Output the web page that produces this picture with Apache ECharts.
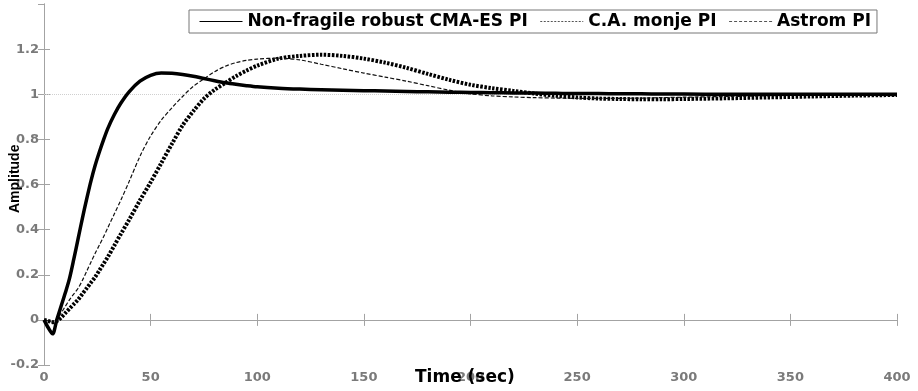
<!DOCTYPE html>
<html>
<head>
<meta charset="utf-8">
<script src="https://cdn.jsdelivr.net/npm/echarts@6/dist/echarts.min.js"></script>
<style>
html,body{margin:0;padding:0;background:#fff;}
#chart{width:918px;height:391px;}
</style>
</head>
<body>
<div id="chart"></div>
<script>
// ---- data ----
const timeSec = [0,2,4,6,8,10,12,14,16,18,20,22,24,26,28,30,33,36,40,45,50,55,60,65,70,75,80,85,90,95,100,110,120,130,140,150,160,170,180,190,200,210,220,230,240,250,260,270,280,290,300,320,340,360,380,400];
const cmaEsPI  = [0,-0.035,-0.062,0.0,0.06,0.12,0.185,0.27,0.36,0.45,0.535,0.615,0.685,0.745,0.80,0.85,0.91,0.96,1.012,1.058,1.084,1.094,1.093,1.088,1.08,1.07,1.06,1.051,1.044,1.038,1.033,1.027,1.023,1.02,1.018,1.016,1.014,1.012,1.011,1.009,1.008,1.007,1.006,1.005,1.004,1.003,1.003,1.002,1.002,1.001,1.001,1.0,1.0,1.0,1.0,1.0];
const monjePI  = [0,-0.005,-0.01,-0.005,0.01,0.03,0.05,0.07,0.09,0.115,0.14,0.165,0.19,0.22,0.25,0.28,0.33,0.38,0.445,0.53,0.61,0.695,0.78,0.862,0.925,0.98,1.02,1.05,1.08,1.105,1.127,1.158,1.17,1.175,1.17,1.158,1.14,1.117,1.09,1.064,1.042,1.027,1.015,1.003,0.993,0.986,0.981,0.979,0.978,0.978,0.979,0.982,0.986,0.99,0.994,0.997];
const astromPI = [0,-0.005,-0.01,0.0,0.03,0.06,0.09,0.115,0.14,0.175,0.215,0.255,0.295,0.332,0.37,0.41,0.47,0.53,0.615,0.725,0.815,0.885,0.94,0.99,1.035,1.068,1.1,1.124,1.14,1.15,1.156,1.16,1.152,1.133,1.113,1.094,1.076,1.058,1.038,1.018,1.002,0.993,0.988,0.985,0.983,0.982,0.982,0.982,0.983,0.985,0.987,0.99,0.993,0.996,0.998,1.0];
const seriesNames = ['Non-fragile robust CMA-ES PI','C.A. monje PI','Astrom PI'];
const xTicks = {min:0, max:400, interval:50};
const yTicks = {min:-0.2, max:1.4, interval:0.2};
const xTitle = 'Time (sec)';
const yTitle = 'Amplitude';

const pairs = arr => timeSec.map((t,i)=>[t,arr[i]]);
const FONT = 'DejaVu Sans';
const axisGrey = '#a3a3a3';
const labelStyle = {color:'#7a7a7a', fontFamily:FONT, fontWeight:'bold', fontSize:13};
const hiddenSymbol = {opacity:0, borderWidth:0};

const chart = echarts.init(document.getElementById('chart'), null, {renderer:'canvas'});
chart.setOption({
  animation:false,
  backgroundColor:'#fff',
  grid:{left:44, right:21, top:4, bottom:26, containLabel:false},
  legend:{
    left:189, top:10,
    padding:[3,6,3,10],
    itemWidth:43, itemHeight:12, itemGap:12,
    backgroundColor:'#fff', borderColor:'#777', borderWidth:1, borderRadius:0,
    textStyle:{color:'#000', fontFamily:FONT, fontWeight:'bold', fontSize:17},
    data:[
      {name:seriesNames[0], itemStyle:hiddenSymbol, lineStyle:{width:1, type:'solid', color:'#000'}},
      {name:seriesNames[1], itemStyle:hiddenSymbol, lineStyle:{width:1, type:[2,1.5], color:'#555'}},
      {name:seriesNames[2], itemStyle:hiddenSymbol, lineStyle:{width:1, type:[3,2], color:'#555'}}
    ]
  },
  xAxis:[
    {type:'value', min:xTicks.min, max:xTicks.max, interval:xTicks.interval, position:'bottom',
     axisLine:{show:true, lineStyle:{color:axisGrey, width:1}},
     axisTick:{show:true, inside:true, length:6, lineStyle:{color:axisGrey}},
     axisLabel:{...labelStyle, margin:6},
     splitLine:{show:false}},
    {type:'value', min:xTicks.min, max:xTicks.max, interval:xTicks.interval, position:'top',
     axisLine:{show:true, lineStyle:{color:axisGrey, width:1}},
     axisTick:{show:true, inside:true, length:6, lineStyle:{color:axisGrey}},
     axisLabel:{show:false}, splitLine:{show:false}}
  ],
  yAxis:[
    {type:'value', min:yTicks.min, max:yTicks.max, interval:yTicks.interval, position:'left',
     axisLine:{show:true, lineStyle:{color:axisGrey, width:1}},
     axisTick:{show:true, inside:true, length:6, lineStyle:{color:axisGrey}},
     axisLabel:{...labelStyle, margin:5, showMaxLabel:false, formatter:v=>String(+v.toFixed(1))},
     splitLine:{show:false}},
    {type:'value', min:yTicks.min, max:yTicks.max, interval:yTicks.interval, position:'right',
     axisLine:{show:true, lineStyle:{color:axisGrey, width:1}},
     axisTick:{show:true, inside:true, length:6, lineStyle:{color:axisGrey}},
     axisLabel:{show:false}, splitLine:{show:false}}
  ],
  series:[
    {name:seriesNames[1], type:'line', data:pairs(monjePI), symbol:'none', smooth:0.3, z:2,
     lineStyle:{color:'#000', width:4, type:[2.5,1.5], cap:'butt'}, itemStyle:{color:'#000'}},
    {name:seriesNames[2], type:'line', data:pairs(astromPI), symbol:'none', smooth:0.3, z:3,
     lineStyle:{color:'#111', width:1.2, type:[4,2]}, itemStyle:{color:'#111'}},
    {name:seriesNames[0], type:'line', data:pairs(cmaEsPI), symbol:'none', smooth:0.3, z:4,
     lineStyle:{color:'#000', width:3.5, type:'solid', join:'miter'}, itemStyle:{color:'#000'},
     markLine:{silent:true, symbol:'none', label:{show:false}, z:1,
       lineStyle:{color:'#cfcfcf', width:1, type:[1,1]}, data:[{yAxis:1}]}}
  ],
  graphic:[
    {type:'text', left:415, top:369, z:10,
     style:{text:xTitle, fill:'#000', font:'bold 17px "DejaVu Sans"'}},
    {type:'text', x:8, y:213, rotation:Math.PI/2, z:10,
     style:{text:yTitle, fill:'#000', font:'bold 14px "Liberation Sans"'}}
  ]
});
</script>
</body>
</html>
